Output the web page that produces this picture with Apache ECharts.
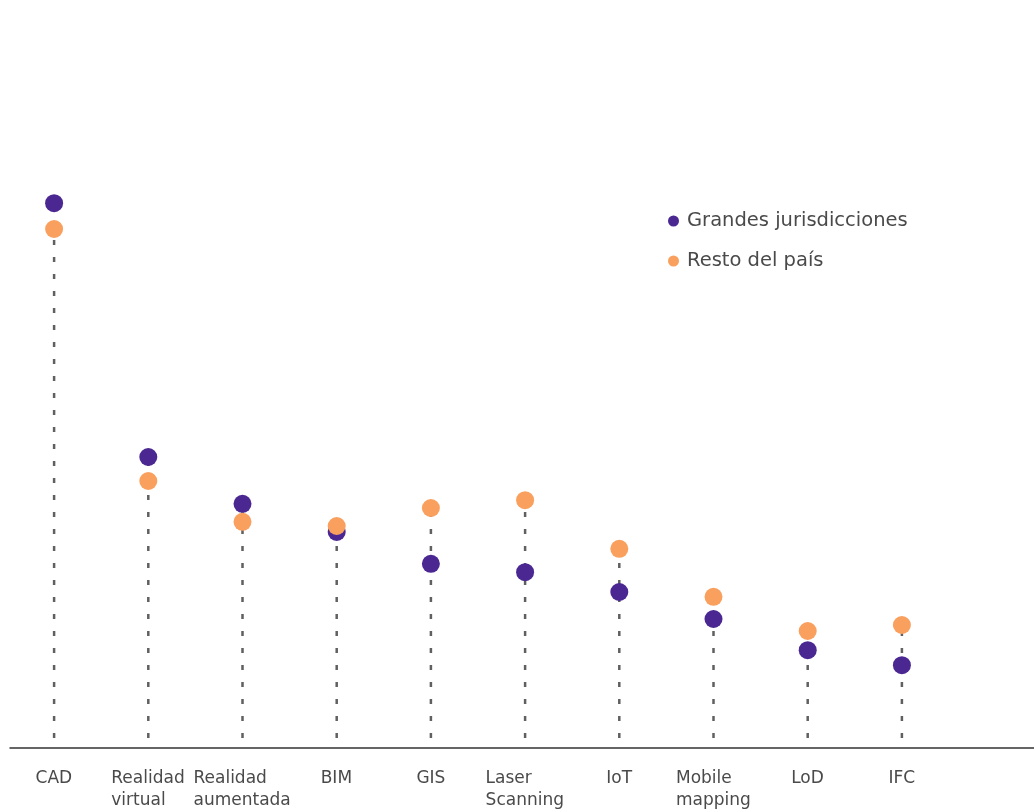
<!DOCTYPE html>
<html>
<head>
<meta charset="utf-8">
<script src="https://cdn.jsdelivr.net/npm/echarts@6/dist/echarts.min.js"></script>
<style>
  html, body { margin: 0; padding: 0; background: #fff; }
  #chart { width: 1034px; height: 811px; }
</style>
</head>
<body>
<div id="chart"></div>
<script>
// categories and values (arbitrary 0-100 scale)
var categories = ['CAD', 'Realidad\nvirtual', 'Realidad\naumentada', 'BIM', 'GIS',
  'Laser\nScanning', 'IoT', 'Mobile\nmapping', 'LoD', 'IFC'];
var grandes = [90.8, 48.5, 40.7, 36.0, 30.7, 29.3, 26.0, 21.5, 16.3, 13.8];
var resto = [86.5, 44.5, 37.7, 37.0, 40.0, 41.3, 33.2, 25.2, 19.5, 20.5];

var FONT = 'DejaVu Sans';
var purple = '#4a2791';
var orange = '#f9a05f';

var myChart = echarts.init(document.getElementById('chart'));

// multi-line labels are left aligned inside a centred block
var ctx = document.createElement('canvas').getContext('2d');
ctx.font = '17px "' + FONT + '"';
var rich = {};
categories.forEach(function (c, i) {
  var w = 0;
  c.split('\n').forEach(function (s) { w = Math.max(w, ctx.measureText(s).width); });
  rich['l' + i] = { width: Math.ceil(w), align: 'left', fontSize: 17, fontFamily: FONT,
    color: '#4a4a4a', lineHeight: 22 };
});

var stems = categories.map(function (c, i) { return [i, Math.max(grandes[i], resto[i])]; });

var option = {
  animation: false,
  backgroundColor: '#fff',
  legend: {
    orient: 'vertical',
    left: 663,
    top: 206,
    icon: 'circle',
    itemWidth: 11,
    itemHeight: 11,
    itemGap: 20,
    textStyle: { fontSize: 19.5, lineHeight: 20, fontFamily: FONT, color: '#4a4a4a',
      padding: [0, 0, 0, 3] },
    data: ['Grandes jurisdicciones', 'Resto del país']
  },
  grid: [
    { left: 7, width: 942, top: 148, bottom: 63 },
    { left: 10, right: 0, top: 148, bottom: 63 }
  ],
  xAxis: [
    {
      type: 'category',
      gridIndex: 0,
      data: categories,
      axisLine: { show: false },
      axisTick: { show: false },
      axisLabel: {
        interval: 0,
        margin: 20,
        formatter: function (v, i) {
          return v.split('\n').map(function (s) { return '{l' + i + '|' + s + '}'; }).join('\n');
        },
        rich: rich
      }
    },
    {
      type: 'value',
      gridIndex: 1,
      axisLine: { show: true, onZero: false, lineStyle: { color: '#333', width: 1.5 } },
      axisTick: { show: false },
      axisLabel: { show: false },
      splitLine: { show: false }
    }
  ],
  yAxis: [
    { type: 'value', gridIndex: 0, min: 0, max: 100, show: false },
    { type: 'value', gridIndex: 1, min: 0, max: 100, show: false }
  ],
  series: [
    {
      type: 'custom',
      xAxisIndex: 0,
      yAxisIndex: 0,
      z: 1,
      silent: true,
      data: stems,
      renderItem: function (params, api) {
        var top = api.coord([api.value(0), api.value(1)]);
        var bottom = api.coord([api.value(0), 0]);
        return {
          type: 'line',
          shape: { x1: bottom[0], y1: bottom[1] - 10, x2: top[0], y2: top[1] },
          style: { stroke: '#606060', lineWidth: 2.5, lineDash: [5, 12] }
        };
      }
    },
    {
      name: 'Grandes jurisdicciones',
      type: 'scatter',
      xAxisIndex: 0,
      yAxisIndex: 0,
      z: 3,
      symbolSize: 18,
      itemStyle: { color: purple, opacity: 1 },
      data: grandes
    },
    {
      name: 'Resto del país',
      type: 'scatter',
      xAxisIndex: 0,
      yAxisIndex: 0,
      z: 3,
      symbolSize: 18,
      itemStyle: { color: orange, opacity: 1 },
      data: resto
    }
  ]
};

myChart.setOption(option);
</script>
</body>
</html>
